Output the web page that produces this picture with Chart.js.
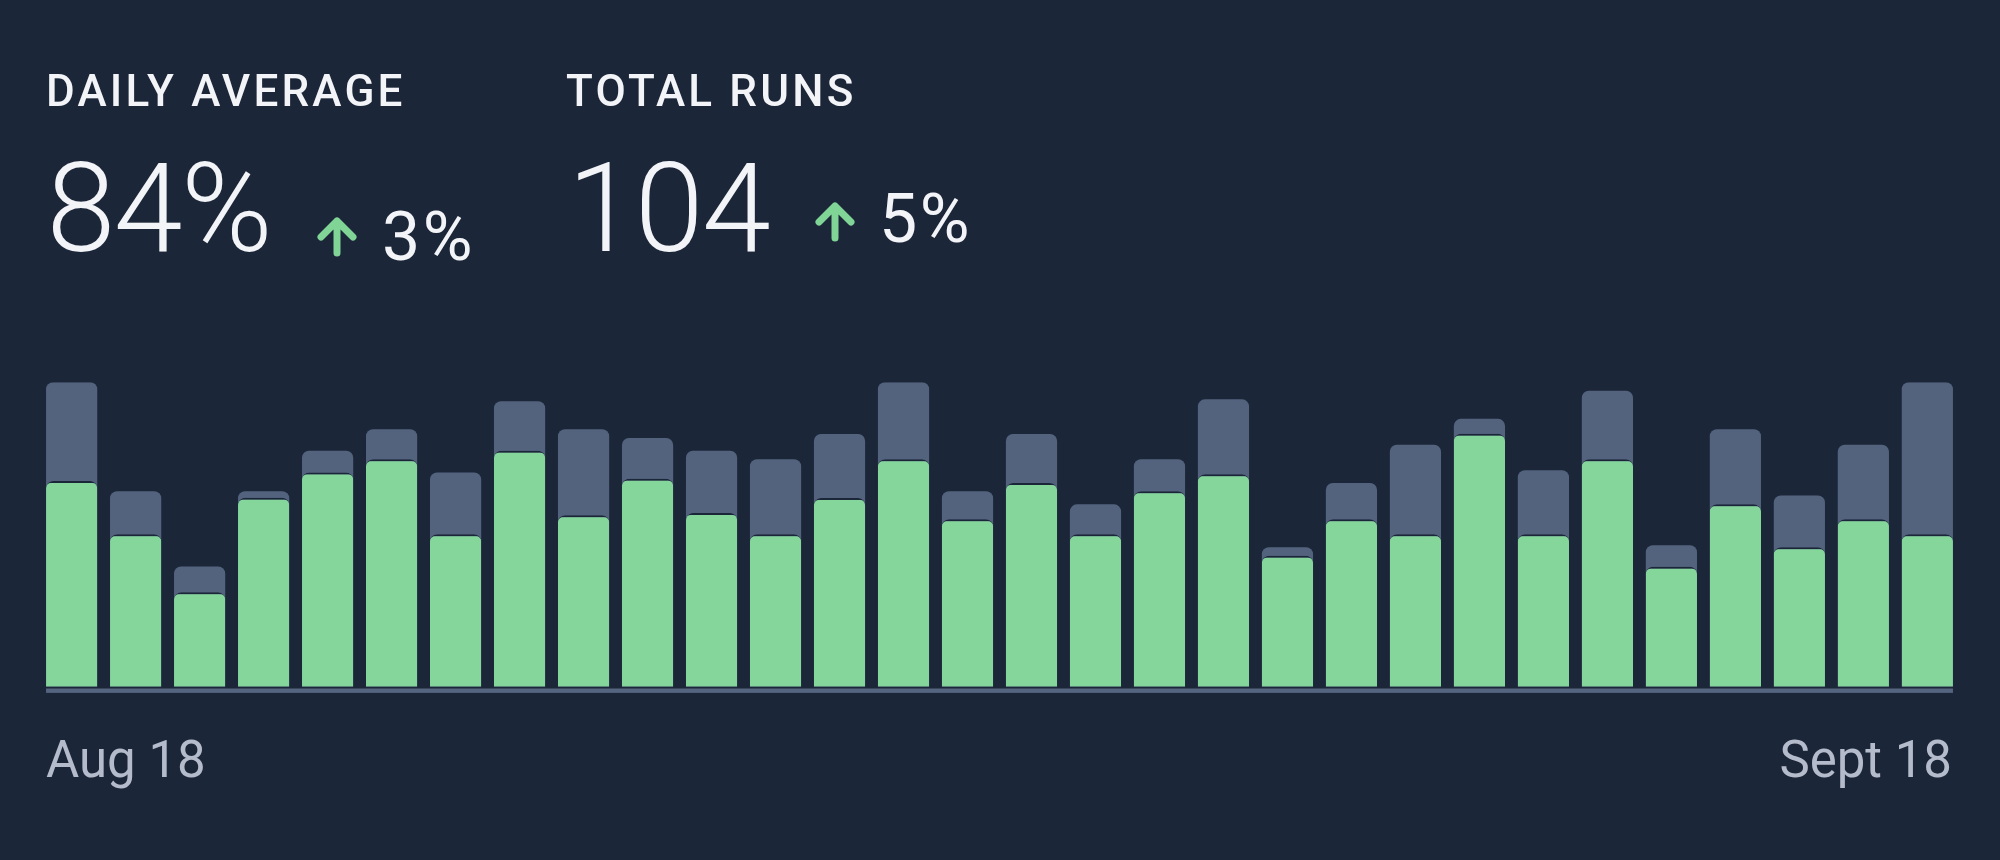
<!DOCTYPE html>
<html>
<head>
<meta charset="utf-8">
<script src="https://cdn.jsdelivr.net/npm/chart.js@4.4.1/dist/chart.umd.min.js"></script>
<style>
  html, body { margin: 0; padding: 0; background: #1c2639; }
  body { width: 2000px; height: 860px; position: relative; overflow: hidden; font-family: Roboto, "Noto Sans", sans-serif; }
  #wrap { position: absolute; left: 0; top: 0; width: 2000px; height: 860px; }
  .t { position: absolute; line-height: 1; white-space: nowrap; color: #f2f4f7; }
  .label { font-size: 44px; font-weight: 500; letter-spacing: 3.2px; top: 69px; }
  .big { font-size: 124px; font-weight: 300; letter-spacing: -1.5px; top: 147px; }
  .delta { font-size: 68px; font-weight: 400; letter-spacing: 2.5px; }
  .axis { font-size: 51px; font-weight: 400; color: #b4bccb; top: 734px; }
  svg.arrow { position: absolute; }
</style>
</head>
<body>
<div id="wrap"><canvas id="c" width="2000" height="860"></canvas></div>
<div class="t label" style="left:46px">DAILY AVERAGE</div>
<div class="t label" style="left:566px">TOTAL RUNS</div>
<div class="t big" style="left:46.5px">84%</div>
<div class="t big" style="left:567.5px">104</div>
<svg class="arrow" style="left:316.5px;top:217px" width="40" height="40" viewBox="0 0 40 40">
  <path d="M20 36 V4 M4 20 L20 4 L36 20" stroke="#7fd496" stroke-width="7" fill="none" stroke-linecap="round" stroke-linejoin="round"/>
</svg>
<div class="t delta" style="left:382px;top:203px">3%</div>
<svg class="arrow" style="left:814.5px;top:201.5px" width="40" height="40" viewBox="0 0 40 40">
  <path d="M20 36 V4 M4 20 L20 4 L36 20" stroke="#7fd496" stroke-width="7" fill="none" stroke-linecap="round" stroke-linejoin="round"/>
</svg>
<div class="t delta" style="left:879px;top:185px">5%</div>
<div class="t axis" id="startLabel" style="left:46px"></div>
<div class="t axis" id="endLabel" style="right:48px"></div>
<script>
// ---- data ----
const days = ['1','2','3','4','5','6','7','8','9','10','11','12','13','14','15',
              '16','17','18','19','20','21','22','23','24','25','26','27','28','29','30'];
const totalRuns = [100, 64.2, 39.5, 64.2, 77.5, 84.6, 70.4, 93.8, 84.6, 81.7,
                   77.5, 74.7, 83.0, 100, 64.2, 83.0, 59.9, 74.7, 94.4, 45.8,
                   66.9, 79.5, 88.0, 71.1, 97.2, 46.5, 84.6, 62.8, 79.5, 100];
const passedRuns = [67.6, 50.1, 31.0, 62.1, 70.4, 74.7, 50.1, 77.5, 56.3, 68.3,
                    57.1, 50.1, 62.0, 74.7, 55.0, 66.9, 50.1, 64.2, 69.8, 43.0,
                    55.0, 50.1, 83.1, 50.1, 74.7, 39.4, 59.9, 45.8, 55.0, 50.1];
const xTickLabels = ['Aug 18', 'Sept 18'];

document.getElementById('startLabel').textContent = xTickLabels[0];
document.getElementById('endLabel').textContent = xTickLabels[1];

const BG = '#1c2639';

const axisLine = {
  id: 'axisLine',
  afterDatasetsDraw(chart) {
    const meta = chart.getDatasetMeta(0);
    const first = meta.data[0], last = meta.data[meta.data.length - 1];
    const x0 = first.x - first.width / 2;
    const x1 = last.x + last.width / 2;
    const y = chart.scales.y.getPixelForValue(0) + 4;
    const ctx = chart.ctx;
    ctx.save();
    ctx.fillStyle = '#55647f';
    ctx.fillRect(x0, y - 2.2, x1 - x0, 4.4);
    ctx.restore();
  }
};

new Chart(document.getElementById('c'), {
  type: 'bar',
  data: {
    labels: days,
    datasets: [
      {
        label: 'Passed',
        data: passedRuns,
        backgroundColor: '#84d69b',
        borderColor: BG,
        borderWidth: {top: 2, left: 0, right: 0, bottom: 0},
        borderSkipped: 'bottom',
        borderRadius: 7,
        barPercentage: 0.8,
        categoryPercentage: 1.0,
        order: 0
      },
      {
        label: 'Total',
        data: totalRuns,
        backgroundColor: '#53637e',
        borderWidth: 0,
        borderRadius: 7,
        borderSkipped: 'bottom',
        barPercentage: 0.8,
        categoryPercentage: 1.0,
        order: 1
      }
    ]
  },
  options: {
    responsive: false,
    animation: false,
    devicePixelRatio: 1,
    layout: { padding: { left: 39.65, right: 40.65, top: 382.3, bottom: 173.3 } },
    plugins: { legend: { display: false }, tooltip: { enabled: false } },
    scales: {
      x: { stacked: true, display: false, grid: { display: false } },
      y: { stacked: false, display: false, min: 0, max: 100, grid: { display: false } }
    }
  },
  plugins: [axisLine]
});
</script>
</body>
</html>
